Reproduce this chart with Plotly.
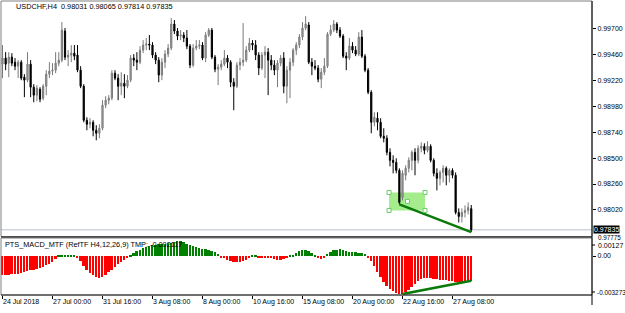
import plotly.graph_objects as go

# ---------------- data ----------------
bar_index = list(range(151))

open_ = [0.99373,0.99429,0.99382,0.99438,0.99391,0.99354,0.99391,0.99252,0.99224,0.99373,
         0.99159,0.99085,0.99140,0.99057,0.99168,0.99280,0.99308,0.99317,0.99382,0.99410,
         0.99680,0.99438,0.99457,0.99475,0.99457,0.99317,0.99168,0.98852,0.98815,0.98833,
         0.98759,0.98731,0.98778,0.98992,0.99038,0.99057,0.99289,0.99243,0.99168,0.99196,
         0.99168,0.99224,0.99429,0.99410,0.99391,0.99503,0.99550,0.99559,0.99550,0.99457,
         0.99410,0.99271,0.99391,0.99466,0.99522,0.99745,0.99680,0.99633,0.99643,0.99615,
         0.99540,0.99364,0.99522,0.99540,0.99550,0.99429,0.99643,0.99689,0.99438,0.99326,
         0.99345,0.99373,0.99429,0.99391,0.99205,0.99168,0.99364,0.99391,0.99410,0.99503,
         0.99568,0.99550,0.99457,0.99336,0.99457,0.99484,0.99410,0.99364,0.99317,0.99382,
         0.99429,0.99168,0.99317,0.99391,0.99503,0.99550,0.99624,0.99708,0.99736,0.99391,
         0.99354,0.99336,0.99233,0.99298,0.99354,0.99652,0.99689,0.99745,0.99689,0.99633,
         0.99447,0.99429,0.99540,0.99503,0.99466,0.99624,0.99447,0.99317,0.99112,0.98833,
         0.98871,0.98833,0.98703,0.98685,0.98554,0.98480,0.98461,0.98387,0.98136,0.98341,
         0.98406,0.98480,0.98554,0.98480,0.98592,0.98610,0.98573,0.98610,0.98480,0.98359,
         0.98313,0.98368,0.98406,0.98341,0.98387,0.98341,0.97996,0.97959,0.97996,0.98015,
         0.98031]
high = [0.99550,0.99484,0.99484,0.99475,0.99429,0.99410,0.99410,0.99280,0.99484,0.99410,
        0.99187,0.99178,0.99159,0.99187,0.99317,0.99391,0.99382,0.99484,0.99484,0.99763,
        0.99708,0.99503,0.99550,0.99550,0.99550,0.99354,0.99187,0.98880,0.98871,0.98852,
        0.98806,0.98815,0.99038,0.99075,0.99085,0.99317,0.99317,0.99280,0.99298,0.99280,
        0.99271,0.99457,0.99466,0.99484,0.99540,0.99596,0.99615,0.99643,0.99577,0.99484,
        0.99438,0.99429,0.99503,0.99559,0.99801,0.99782,0.99708,0.99689,0.99670,0.99689,
        0.99559,0.99559,0.99596,0.99596,0.99577,0.99670,0.99708,0.99708,0.99457,0.99373,
        0.99410,0.99503,0.99457,0.99410,0.99243,0.99391,0.99429,0.99754,0.99540,0.99615,
        0.99596,0.99596,0.99484,0.99484,0.99540,0.99522,0.99457,0.99410,0.99410,0.99457,
        0.99484,0.99354,0.99429,0.99522,0.99577,0.99652,0.99763,0.99819,0.99763,0.99429,
        0.99410,0.99364,0.99336,0.99429,0.99670,0.99736,0.99782,0.99763,0.99717,0.99652,
        0.99484,0.99615,0.99577,0.99540,0.99670,0.99689,0.99466,0.99336,0.99131,0.98926,
        0.98926,0.98871,0.98778,0.98713,0.98592,0.98527,0.98499,0.98406,0.98387,0.98434,
        0.98508,0.98573,0.98592,0.98620,0.98647,0.98638,0.98657,0.98629,0.98499,0.98406,
        0.98387,0.98434,0.98424,0.98406,0.98406,0.98368,0.98034,0.98034,0.98062,0.98089,
        0.98065]
low = [0.99243,0.99317,0.99252,0.99354,0.99317,0.99243,0.99224,0.99066,0.99205,0.99066,
       0.99019,0.99029,0.99019,0.99038,0.99085,0.99243,0.99271,0.99289,0.99354,0.99391,
       0.99410,0.99354,0.99391,0.99410,0.99298,0.99150,0.98833,0.98759,0.98778,0.98703,
       0.98666,0.98685,0.98759,0.98964,0.99001,0.99038,0.99224,0.99038,0.99085,0.99057,
       0.99150,0.99205,0.99354,0.99317,0.99373,0.99475,0.99503,0.99503,0.99429,0.99373,
       0.99205,0.99224,0.99336,0.99438,0.99503,0.99652,0.99596,0.99596,0.99577,0.99512,
       0.99336,0.99345,0.99503,0.99512,0.99410,0.99391,0.99624,0.99419,0.99298,0.99178,
       0.99317,0.99354,0.99336,0.99159,0.98945,0.99150,0.99317,0.99354,0.99391,0.99484,
       0.99503,0.99410,0.99271,0.99317,0.99243,0.99085,0.99317,0.99271,0.99159,0.99354,
       0.99103,0.99010,0.99057,0.99354,0.99457,0.99522,0.99596,0.99689,0.99373,0.99271,
       0.99317,0.99205,0.99150,0.99271,0.99336,0.99633,0.99670,0.99661,0.99615,0.99429,
       0.99317,0.99410,0.99475,0.99447,0.99447,0.99429,0.99298,0.99094,0.98731,0.98796,
       0.98759,0.98685,0.98647,0.98527,0.98424,0.98359,0.98359,0.98071,0.98108,0.98294,
       0.98368,0.98387,0.98341,0.98452,0.98554,0.98536,0.98554,0.98461,0.98331,0.98201,
       0.98248,0.98275,0.98248,0.98275,0.98313,0.97978,0.97903,0.97903,0.97950,0.97978,
       0.97814]
close = [0.99429,0.99373,0.99438,0.99382,0.99354,0.99391,0.99243,0.99224,0.99373,0.99159,
         0.99085,0.99150,0.99047,0.99168,0.99280,0.99308,0.99317,0.99382,0.99410,0.99689,
         0.99438,0.99457,0.99475,0.99447,0.99317,0.99168,0.98852,0.98815,0.98833,0.98759,
         0.98731,0.98778,0.98992,0.99038,0.99057,0.99289,0.99243,0.99168,0.99196,0.99168,
         0.99224,0.99429,0.99410,0.99391,0.99503,0.99550,0.99559,0.99550,0.99457,0.99410,
         0.99271,0.99391,0.99466,0.99522,0.99745,0.99680,0.99633,0.99643,0.99615,0.99540,
         0.99364,0.99522,0.99540,0.99550,0.99429,0.99643,0.99689,0.99438,0.99326,0.99345,
         0.99373,0.99429,0.99391,0.99205,0.99168,0.99364,0.99391,0.99410,0.99503,0.99568,
         0.99550,0.99457,0.99336,0.99457,0.99484,0.99410,0.99364,0.99317,0.99382,0.99429,
         0.99168,0.99317,0.99391,0.99503,0.99550,0.99624,0.99708,0.99745,0.99391,0.99354,
         0.99336,0.99233,0.99298,0.99354,0.99652,0.99689,0.99745,0.99689,0.99633,0.99447,
         0.99429,0.99540,0.99503,0.99466,0.99624,0.99447,0.99317,0.99112,0.98833,0.98880,
         0.98833,0.98703,0.98685,0.98554,0.98480,0.98461,0.98387,0.98089,0.98359,0.98406,
         0.98480,0.98554,0.98480,0.98592,0.98610,0.98573,0.98610,0.98480,0.98359,0.98313,
         0.98368,0.98406,0.98341,0.98387,0.98341,0.97996,0.97959,0.97996,0.98015,0.98043,
         0.97835]

macd_hist = [-0.001632,-0.001632,-0.001632,-0.001546,-0.001546,-0.001546,-0.001460,-0.001374,-0.001289,-0.001203,
             -0.001203,-0.001117,-0.001031,-0.000945,-0.000773,-0.000687,-0.000515,-0.000258,0.000086,0.000086,
             0.000086,0.000086,0.000086,0.000086,-0.000086,-0.000430,-0.000859,-0.001203,-0.001460,-0.001632,
             -0.001804,-0.001890,-0.001804,-0.001632,-0.001374,-0.001203,-0.000945,-0.000687,-0.000515,-0.000344,
             -0.000172,0.000086,0.000258,0.000430,0.000515,0.000687,0.000773,0.000859,0.000945,0.000945,
             0.001031,0.001031,0.001031,0.001117,0.001117,0.001203,0.001270,0.001270,0.001203,0.001031,
             0.000945,0.000859,0.000773,0.000687,0.000601,0.000601,0.000515,0.000430,0.000344,0.000172,
             -0.000086,-0.000172,-0.000344,-0.000430,-0.000515,-0.000515,-0.000515,-0.000430,-0.000344,-0.000172,
             0.000086,0.000086,-0.000086,-0.000086,-0.000086,-0.000086,-0.000172,-0.000258,-0.000344,-0.000344,
             -0.000258,-0.000172,0.000043,0.000086,0.000258,0.000430,0.000515,0.000558,0.000430,0.000258,
             0.000086,-0.000172,-0.000258,-0.000172,0.000172,0.000344,0.000515,0.000558,0.000601,0.000558,
             0.000430,0.000387,0.000344,0.000344,0.000301,0.000258,0.000172,-0.000086,-0.000430,-0.000859,
             -0.001374,-0.001804,-0.002233,-0.002577,-0.002835,-0.003007,-0.003178,-0.003273,-0.003221,-0.003092,
             -0.002921,-0.002663,-0.002405,-0.002148,-0.001976,-0.001890,-0.001847,-0.001890,-0.001933,-0.001976,
             -0.002019,-0.002062,-0.002062,-0.002105,-0.002148,-0.002190,-0.002233,-0.002233,-0.002190,-0.002148,
             -0.002117]

x_tick_pos = [0, 16, 32, 48, 64, 80, 96, 112, 128, 144]
x_tick_text = ["24 Jul 2018", "27 Jul 00:00", "31 Jul 16:00", "3 Aug 08:00", "8 Aug 00:00",
               "10 Aug 16:00", "15 Aug 08:00", "20 Aug 00:00", "22 Aug 16:00", "27 Aug 08:00"]
price_ticks = [0.99700, 0.99460, 0.99220, 0.98980, 0.98740, 0.98500, 0.98260, 0.98020]
macd_ticks = [0.0]
macd_tick_text = ["0.00"]
macd_top_label = "0.00127"
macd_bottom_label = "-0.003273"

bid_price = 0.97835
pane_min_price = 0.97775

price_div_x = [127, 150]
price_div_y = [0.98071, 0.97814]
macd_div_x = [128, 150]
macd_div_y = [-0.003273, -0.002117]

zone_x = [123.7, 135.2]
zone_y = [0.98015, 0.98182]
handle_x = [123.7, 135.2, 123.7, 135.2, 129.6]
handle_y = [0.98182, 0.98182, 0.98015, 0.98015, 0.98099]

title_main = "USDCHF,H4  0.98031 0.98065 0.97814 0.97835"
title_ind = "PTS_MACD_MTF (RefTF H4,12,26,9) TMP: -0.002117"

# ---------------- figure ----------------
W, H = 625, 313
FONT = "Liberation Sans"

def px(xp):
    return xp / W

def py(yp):
    return 1 - yp / H

fig = go.Figure()

fig.add_trace(go.Candlestick(
    x=bar_index, open=open_, high=high, low=low, close=close,
    increasing=dict(fillcolor="#a8a8a8", line=dict(color="#7a7a7a", width=1)),
    decreasing=dict(fillcolor="#000000", line=dict(color="#000000", width=1)),
    whiskerwidth=0, xaxis="x", yaxis="y", hoverinfo="skip", showlegend=False))

fig.add_trace(go.Scatter(x=price_div_x, y=price_div_y, mode="lines",
                         line=dict(color="#0a7a0a", width=2.5),
                         xaxis="x", yaxis="y", hoverinfo="skip", showlegend=False))

fig.add_trace(go.Scatter(x=handle_x, y=handle_y, mode="markers",
                         marker=dict(symbol="square", size=4, color="white",
                                     line=dict(color="#6cc86c", width=1)),
                         xaxis="x", yaxis="y", hoverinfo="skip", showlegend=False))

hist_colors = ["#008000" if v > 0 else "#ff0000" for v in macd_hist]
fig.add_trace(go.Bar(x=bar_index, y=macd_hist, marker=dict(color=hist_colors, line=dict(width=0)),
                     width=0.62, xaxis="x2", yaxis="y2", hoverinfo="skip", showlegend=False))

fig.add_trace(go.Scatter(x=macd_div_x, y=macd_div_y, mode="lines",
                         line=dict(color="#0a7a0a", width=2.5),
                         xaxis="x2", yaxis="y2", hoverinfo="skip", showlegend=False))

x_range = [-0.48, 188.64]
x_dom = [px(1), px(592)]

shapes = [
    dict(type="rect", xref="x", yref="y", x0=zone_x[0], x1=zone_x[1], y0=zone_y[0], y1=zone_y[1],
         fillcolor="#a4ec8c", line=dict(width=0), layer="below"),
    dict(type="line", xref="paper", yref="y", x0=px(1), x1=px(592), y0=bid_price, y1=bid_price,
         line=dict(color="#b8c0c8", width=1), layer="below"),
    dict(type="rect", xref="paper", yref="paper", x0=px(1), x1=px(592), y0=py(236.5), y1=py(1),
         line=dict(color="#808080", width=1)),
    dict(type="rect", xref="paper", yref="paper", x0=px(1), x1=px(592), y0=py(295), y1=py(238),
         line=dict(color="#808080", width=1)),
    dict(type="line", xref="paper", yref="paper", x0=px(1), x1=px(592), y0=py(237), y1=py(237),
         line=dict(color="#404040", width=1.5)),
    dict(type="line", xref="paper", yref="paper", x0=px(1), x1=px(592), y0=py(295), y1=py(295),
         line=dict(color="#202020", width=1)),
    dict(type="line", xref="paper", yref="paper", x0=px(592), x1=px(592), y0=py(305), y1=py(1),
         line=dict(color="#000000", width=1)),
    dict(type="line", xref="paper", yref="paper", x0=px(592), x1=px(595), y0=py(245), y1=py(245),
         line=dict(color="#000000", width=1)),
    dict(type="line", xref="paper", yref="paper", x0=px(592), x1=px(595), y0=py(292), y1=py(292),
         line=dict(color="#000000", width=1)),
]

annotations = [
    dict(text=title_main, xref="paper", yref="paper", x=px(14), y=py(7), xanchor="left",
         yanchor="middle", showarrow=False, font=dict(family=FONT, size=7.3, color="black")),
    dict(text=title_ind, xref="paper", yref="paper", x=px(3), y=py(245), xanchor="left",
         yanchor="middle", showarrow=False, font=dict(family=FONT, size=7.3, color="black")),
    dict(text=f"{pane_min_price:.5f}", xref="paper", yref="paper", x=px(596), y=py(237.8),
         xanchor="left", yanchor="middle", showarrow=False,
         font=dict(family=FONT, size=6.3, color="black")),
    dict(text=f"{bid_price:.5f}", xref="paper", yref="y", x=px(593), y=bid_price,
         xanchor="left", yanchor="middle", showarrow=False, bgcolor="black", borderpad=0,
         font=dict(family=FONT, size=7, color="white")),
    dict(text=macd_top_label, xref="paper", yref="paper", x=px(596), y=py(245.5),
         xanchor="left", yanchor="middle", showarrow=False,
         font=dict(family=FONT, size=7, color="black")),
    dict(text=macd_bottom_label, xref="paper", yref="paper", x=px(594.5), y=py(292),
         xanchor="left", yanchor="middle", showarrow=False,
         font=dict(family=FONT, size=6.4, color="black")),
]

fig.update_layout(
    width=W, height=H, margin=dict(l=0, r=0, t=0, b=0, autoexpand=False),
    paper_bgcolor="white", plot_bgcolor="white",
    showlegend=False, boxgap=0.45, bargap=0,
    font=dict(family=FONT, size=7, color="black"),
    shapes=shapes, annotations=annotations,
    xaxis=dict(domain=x_dom, range=x_range, showgrid=False, zeroline=False,
               showticklabels=False, ticks="", rangeslider=dict(visible=False),
               anchor="y", fixedrange=True, automargin=False),
    yaxis=dict(domain=[py(236.5), py(1)], range=[0.97773, 0.99959], side="right",
               anchor="x", showgrid=False, zeroline=False, automargin=False,
               tickvals=price_ticks, ticktext=[f"{v:.5f}" for v in price_ticks],
               ticks="outside", ticklen=3, tickcolor="black",
               tickfont=dict(family=FONT, size=7, color="black")),
    xaxis2=dict(domain=x_dom, range=x_range, matches="x", anchor="y2", showgrid=False,
                zeroline=False, tickvals=x_tick_pos, ticktext=x_tick_text,
                ticks="outside", ticklen=3, tickcolor="black", tickangle=0,
                ticklabelposition="outside right", automargin=False,
                tickfont=dict(family=FONT, size=7, color="black")),
    yaxis2=dict(domain=[py(295), py(238)], range=[-0.00335, 0.00155], side="right",
                anchor="x2", showgrid=False, zeroline=False, automargin=False,
                tickvals=macd_ticks, ticktext=macd_tick_text,
                ticks="outside", ticklen=3, tickcolor="black",
                tickfont=dict(family=FONT, size=7, color="black")),
)

fig.write_html("out.html")
